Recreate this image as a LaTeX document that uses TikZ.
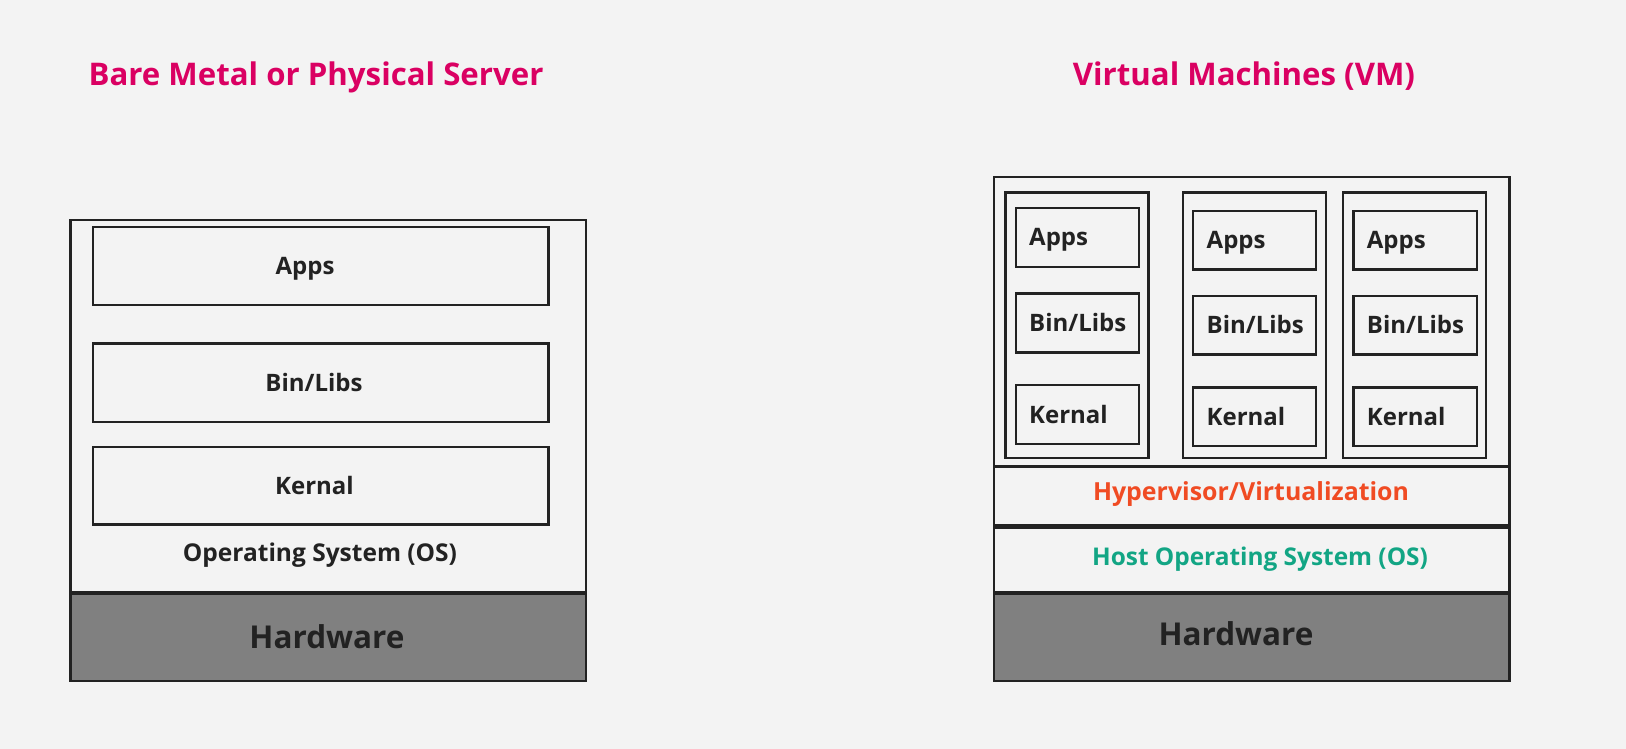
\documentclass[tikz,border=0pt]{standalone}
\usepackage{fontspec}
\setmainfont{Open Sans}
\definecolor{bg}{HTML}{F3F3F3}
\definecolor{linec}{HTML}{222222}
\definecolor{txt}{HTML}{222222}
\definecolor{pink}{HTML}{DA0062}
\definecolor{hyper}{HTML}{F04B23}
\definecolor{teal}{HTML}{12A584}
\definecolor{hw}{HTML}{808080}
\newcommand\bx[6]{\node[#6, minimum width={(#4-#2)*1pt}, minimum height={(#5-#3)*1pt}] (#1) at ({(#2+#4)/2},{(#3+#5)/2}) {};}
\begin{document}
\begin{tikzpicture}[x=1pt,y=-1pt,
  box/.style={draw=linec, line width=2.4pt, inner sep=0pt, outer sep=0pt, rectangle},
  hwbox/.style={box, fill=hw},
  fs/.style={font=\bfseries\fontsize{#1}{#1}\selectfont, inner sep=0pt, text depth=0pt, text height={0.714*#1*1pt}},
  title/.style={fs=31.2, text=pink},
  item/.style={fs=24, text=txt},
  vitem/.style={fs=24, text=txt, anchor=west},
  hwtext/.style={fs=31.5, text=txt},
]
\fill[bg] (0,0) rectangle (1626,749);
\useasboundingbox (0,0) rectangle (1626,749);

% ---------- left: bare metal ----------
\node[title] (t1) at (316,74.5) {Bare Metal or Physical Server};
\bx{os}{70.5}{220}{586}{592}{box}
\bx{hw1}{70.5}{594}{586}{681}{hwbox}
\bx{apps}{92.8}{227}{548.6}{305}{box}
\bx{bins}{92.8}{343.5}{548.6}{422}{box}
\bx{kern}{92.8}{446.7}{548.6}{524.6}{box}
\node[item] (appst) at (305,266) {Apps};
\node[item] (binst) at (314,382.75) {Bin/Libs};
\node[item] (kernt) at (314.5,485.65) {Kernal};
\node[fs=24.5, text=txt] (ost) at (320,553) {Operating System (OS)};
\node[hwtext] (hw1t) at (327,637.3) {Hardware};

% ---------- right: virtual machines ----------
\node[title] (t2) at (1244,74.5) {Virtual Machines (VM)};
\bx{vm}{994}{177}{1509.3}{466}{box}
\bx{hyp}{994}{467}{1509.3}{525.5}{box}
\bx{host}{994}{527.5}{1509.3}{592}{box}
\bx{hw2}{994}{594}{1509.3}{681}{hwbox}

\bx{c1}{1005.4}{192.5}{1148.5}{458}{box}
\bx{c2}{1183.2}{192.5}{1325.8}{458}{box}
\bx{c3}{1342.9}{192.5}{1486}{458}{box}

\bx{a1}{1015.7}{207.8}{1139}{267}{box}
\bx{b1}{1015.7}{293.4}{1139}{352.6}{box}
\bx{k1}{1015.7}{385}{1139}{444}{box}
\bx{a2}{1193}{210.7}{1316}{269.5}{box}
\bx{b2}{1193}{295.7}{1316}{354.5}{box}
\bx{k2}{1193}{387.5}{1316}{446.2}{box}
\bx{a3}{1353.3}{210.7}{1476.7}{269.5}{box}
\bx{b3}{1353.3}{295.7}{1476.7}{354.5}{box}
\bx{k3}{1353.3}{387.5}{1476.7}{446.2}{box}

\node[vitem] (a1t) at (1029,237.4) {Apps};
\node[vitem] (b1t) at (1029,323) {Bin/Libs};
\node[vitem] (k1t) at (1029,414.5) {Kernal};
\node[vitem] (a2t) at (1206.5,240.1) {Apps};
\node[vitem] (b2t) at (1206.5,325.1) {Bin/Libs};
\node[vitem] (k2t) at (1206.5,416.85) {Kernal};
\node[vitem] (a3t) at (1366.7,240.1) {Apps};
\node[vitem] (b3t) at (1366.7,325.1) {Bin/Libs};
\node[vitem] (k3t) at (1366.7,416.85) {Kernal};

\node[fs=24.9, text=hyper] (hypt) at (1251,491.7) {Hypervisor/Virtualization};
\node[fs=24.4, text=teal] (hostt) at (1260,557) {Host Operating System (OS)};
\node[hwtext] (hw2t) at (1236,634.3) {Hardware};
\end{tikzpicture}
\end{document}
